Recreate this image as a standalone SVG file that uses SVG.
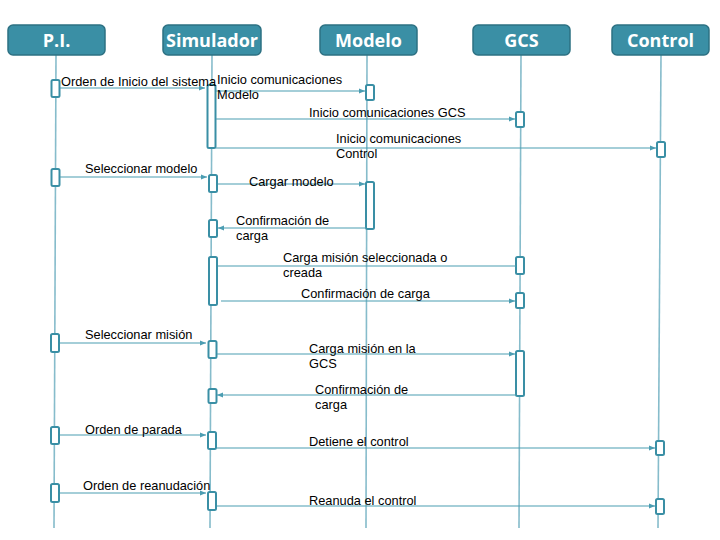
<svg xmlns="http://www.w3.org/2000/svg" width="720" height="540" viewBox="0 0 720 540">
<defs>
<style>
.hdr{fill:#3a8fa5;stroke:#2d7183;stroke-width:1.5}
.htx{fill:#ffffff;font-family:"Open Sans","Liberation Sans",sans-serif;font-weight:bold;font-size:18px;text-anchor:middle}
.life{stroke:#86bccb;stroke-width:1.6;fill:none}
.act{fill:#ffffff;stroke:#3a8fa5;stroke-width:2}
.msg{stroke:#4b9db2;stroke-width:1.2;fill:none}
.arr{stroke:#4b9db2;stroke-width:1.2;fill:none;marker-end:url(#ah)}
.lbl{fill:#000000;font-family:"Liberation Sans",Arial,sans-serif;font-size:12.8px}
</style>
<marker id="ah" viewBox="0 0 10 10" refX="10" refY="5" markerWidth="6" markerHeight="6" markerUnits="userSpaceOnUse" orient="auto">
<path d="M0,1 L10,5 L0,9 z" fill="#4b9db2"/>
</marker>
</defs>
<rect width="720" height="540" fill="#ffffff"/>

<g id="lifelines">
<line class="life" x1="56" y1="55" x2="54" y2="528"/>
<line class="life" x1="212" y1="55" x2="210" y2="528"/>
<line class="life" x1="367" y1="55" x2="366" y2="528"/>
<line class="life" x1="521" y1="55" x2="519" y2="528"/>
<line class="life" x1="661" y1="55" x2="658" y2="528"/>
</g>

<g id="node-pi"><rect class="hdr" x="8" y="25" width="97" height="30" rx="5"/><text class="htx" x="56.5" y="47">P.I.</text></g>
<g id="node-simulador"><rect class="hdr" x="163" y="25" width="98" height="30" rx="5"/><text class="htx" x="212" y="47">Simulador</text></g>
<g id="node-modelo"><rect class="hdr" x="320" y="25" width="97" height="30" rx="5"/><text class="htx" x="368.5" y="47">Modelo</text></g>
<g id="node-gcs"><rect class="hdr" x="473" y="25" width="97" height="30" rx="5"/><text class="htx" x="521.5" y="47">GCS</text></g>
<g id="node-control"><rect class="hdr" x="612" y="25" width="97" height="30" rx="5"/><text class="htx" x="660.5" y="47">Control</text></g>

<g id="activations">
<rect class="act" x="51.5" y="80" width="8" height="17" rx="1.5"/>
<rect class="act" x="207.5" y="85" width="8" height="63" rx="1.5"/>
<rect class="act" x="366" y="85" width="8" height="15" rx="1.5"/>
<rect class="act" x="516" y="112" width="8" height="15" rx="1.5"/>
<rect class="act" x="657" y="142" width="8" height="15" rx="1.5"/>

<rect class="act" x="51.5" y="169" width="8" height="17" rx="1.5"/>
<rect class="act" x="209" y="175" width="8" height="17" rx="1.5"/>
<rect class="act" x="366" y="182" width="8" height="47" rx="1.5"/>
<rect class="act" x="209" y="220" width="8" height="17" rx="1.5"/>
<rect class="act" x="209" y="257" width="8" height="48" rx="1.5"/>
<rect class="act" x="516" y="257" width="8" height="17" rx="1.5"/>
<rect class="act" x="516" y="293" width="8" height="15" rx="1.5"/>

<rect class="act" x="51" y="334" width="8" height="18" rx="1.5"/>
<rect class="act" x="208.5" y="341" width="8" height="17" rx="1.5"/>
<rect class="act" x="516" y="351" width="8" height="45" rx="1.5"/>
<rect class="act" x="208.5" y="389" width="8" height="14" rx="1.5"/>
<rect class="act" x="51" y="427" width="8" height="17" rx="1.5"/>
<rect class="act" x="208" y="432" width="8" height="17" rx="1.5"/>
<rect class="act" x="656" y="441" width="8" height="14" rx="1.5"/>
<rect class="act" x="51" y="484" width="8" height="18" rx="1.5"/>
<rect class="act" x="208" y="492" width="8" height="18" rx="1.5"/>
<rect class="act" x="656" y="499" width="8" height="15" rx="1.5"/>
</g>

<g id="connectors">
<line class="arr" x1="60" y1="88" x2="205" y2="88"/>
<line class="arr" x1="216" y1="91" x2="365" y2="91"/>
<line class="arr" x1="216" y1="119" x2="515" y2="119"/>
<line class="arr" x1="216" y1="148" x2="656" y2="148"/>
<line class="arr" x1="60" y1="177" x2="207" y2="177"/>
<line class="arr" x1="218" y1="184" x2="365" y2="184"/>
<line class="arr" x1="366" y1="228" x2="218" y2="228"/>
<line class="msg" x1="218" y1="266" x2="516" y2="266"/>
<line class="arr" x1="221" y1="301" x2="515" y2="301"/>
<line class="arr" x1="60" y1="343" x2="206" y2="343"/>
<line class="arr" x1="217" y1="354" x2="515" y2="354"/>
<line class="arr" x1="516" y1="395" x2="217" y2="395"/>
<line class="arr" x1="60" y1="435" x2="206" y2="435"/>
<line class="arr" x1="217" y1="448" x2="655" y2="448"/>
<line class="arr" x1="60" y1="493" x2="206" y2="493"/>
<line class="arr" x1="217" y1="506" x2="655" y2="506"/>
</g>

<g id="labels">
<text class="lbl" x="61" y="86">Orden de Inicio del sistema</text>
<text class="lbl" x="217" y="84">Inicio comunicaciones<tspan x="217" dy="15">Modelo</tspan></text>
<text class="lbl" x="309" y="117">Inicio comunicaciones GCS</text>
<text class="lbl" x="336" y="143">Inicio comunicaciones<tspan x="336" dy="15">Control</tspan></text>
<text class="lbl" x="85" y="173">Seleccionar modelo</text>
<text class="lbl" x="249" y="186">Cargar modelo</text>
<text class="lbl" x="236" y="225">Confirmación de<tspan x="236" dy="15">carga</tspan></text>
<text class="lbl" x="283" y="262">Carga misión seleccionada o<tspan x="283" dy="15">creada</tspan></text>
<text class="lbl" x="301" y="298">Confirmación de carga</text>
<text class="lbl" x="85" y="339">Seleccionar misión</text>
<text class="lbl" x="309" y="353">Carga misión en la<tspan x="309" dy="15">GCS</tspan></text>
<text class="lbl" x="315" y="394">Confirmación de<tspan x="315" dy="15">carga</tspan></text>
<text class="lbl" x="85" y="434">Orden de parada</text>
<text class="lbl" x="309" y="446">Detiene el control</text>
<text class="lbl" x="83" y="490">Orden de reanudación</text>
<text class="lbl" x="309" y="505">Reanuda el control</text>
</g>
</svg>
